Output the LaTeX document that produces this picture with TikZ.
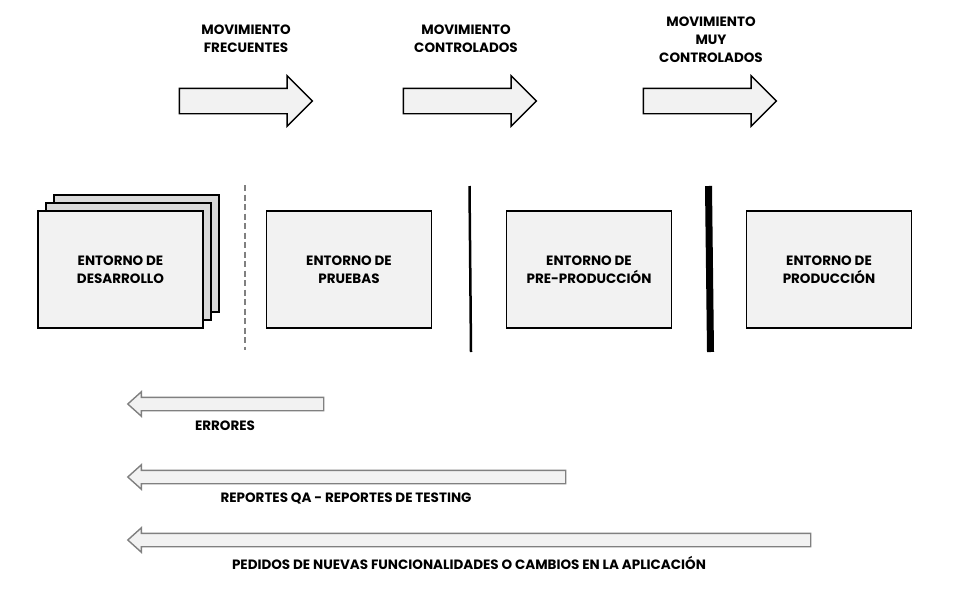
\documentclass[tikz,border=0pt]{standalone}
\usepackage{fontspec}
\setmainfont{Poppins}
\usetikzlibrary{shapes.arrows}
\definecolor{boxfill}{HTML}{F2F2F2}
\definecolor{stackfill}{HTML}{D9D9D9}
\definecolor{linegray}{HTML}{808080}

\begin{document}
\begin{tikzpicture}[x=1pt,y=-1pt,font=\fontsize{13.5}{18}\selectfont\bfseries]
    \tikzstyle{env} = [draw,line width=1.6pt,fill=boxfill,minimum width=165pt,minimum height=117pt,align=center,inner sep=0pt,node distance=240pt]
\tikzstyle{move} = [draw,line width=1.4pt,fill=boxfill,single arrow,minimum height=133pt,inner xsep=0pt,inner ysep=12pt,single arrow head extend=12.5pt]
\tikzstyle{back} = [draw=linegray,line width=1.4pt,fill=boxfill,single arrow,shape border rotate=180,inner xsep=0pt,inner ysep=6pt,single arrow head extend=5.5pt,single arrow tip angle=84]
\tikzstyle{mlabel} = [align=center,inner sep=0pt]

\useasboundingbox (0,0) rectangle (960,605);

% movimientos
\node[move] (m1) at (239.5,101) {};
\node[move] (m2) at (463.5,101) {};
\node[move] (m3) at (703.5,101) {};

\node[mlabel] (l1) at (246,39) {MOVIMIENTO\\FRECUENTES};
\node[mlabel] (l2) at (466,39) {MOVIMIENTO\\CONTROLADOS};
\node[mlabel] (l3) at (711,40) {MOVIMIENTO\\MUY\\CONTROLADOS};

% entornos
\node[env,fill=stackfill] (env1c) at (136.5,253.5) {};
\node[env,fill=stackfill] (env1b) at (128.5,261.5) {};
\node[env] (env1) at (120.5,269.5) {ENTORNO DE\\DESARROLLO};
\node[env] (env2) at (349,269.5) {ENTORNO DE\\PRUEBAS};
\node[env,right of=env2] (env3) {ENTORNO DE\\PRE-PRODUCCIÓN};
\node[env,right of=env3] (env4) {ENTORNO DE\\PRODUCCIÓN};

% separadores
\coordinate (s1a) at (245,185);
\coordinate (s1b) at (245,350);
\coordinate (s2a) at (469.5,186);
\coordinate (s2b) at (471,352);
\coordinate (s3a) at (708.5,186);
\coordinate (s3b) at (710.5,352);
\draw[linegray,line width=1.5pt,dash pattern=on 6pt off 3.5pt] (s1a) -- (s1b);
\draw[line width=2.5pt] (s2a) -- (s2b);
\draw[line width=7pt] (s3a) -- (s3b);

% retornos
\node[back,minimum height=196pt] (r1) at (229.5,404) {};
\node[back,minimum height=438pt] (r2) at (350.5,477) {};
\node[back,minimum height=683pt] (r3) at (473,540) {};

\node[mlabel] (t1) at (225,425.5) {ERRORES};
\node[mlabel] (t2) at (346,498) {REPORTES QA - REPORTES DE TESTING};
\node[mlabel] (t3) at (469,563) {PEDIDOS DE NUEVAS FUNCIONALIDADES O CAMBIOS EN LA APLICACIÓN};
\end{tikzpicture}
\end{document}
